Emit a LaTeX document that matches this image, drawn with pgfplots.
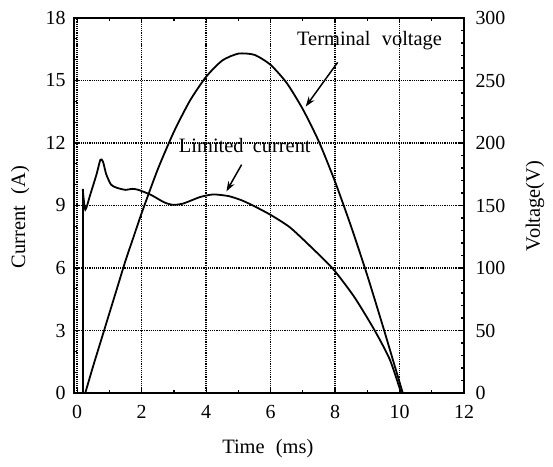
\documentclass[border=0pt]{standalone}
\usepackage{fontspec}
\setmainfont{Liberation Serif}
\usepackage{pgfplots}
\pgfplotsset{compat=1.18}
\usetikzlibrary{arrows.meta}

\pgfplotstableread{
t V
0.25 0
0.5 22
0.75 43
1.0 64
1.25 85
1.5 106
1.75 125
2.0 144
2.5 179
3.0 209
3.5 234
4.0 253
4.5 266
5.0 271.5
5.5 270.5
6.0 262.5
6.5 248
7.0 227
7.5 201
8.0 169
8.5 133
9.0 94
9.5 52
9.8 26
10.1 0
}\voltage

\pgfplotstableread{
t I
0.17 0
0.17 9.8
}\currentrise

\pgfplotstableread{
t I
0.17 9.8
0.25 8.8
0.4 9.5
0.6 10.5
0.72 11.2
0.8 11.1
0.9 10.5
1.05 10.0
1.23 9.85
1.5 9.75
1.7 9.8
1.9 9.75
2.3 9.5
2.7 9.15
2.98 9.03
3.3 9.1
3.8 9.4
4.22 9.53
4.7 9.45
5.1 9.25
5.45 9.0
6.0 8.55
6.6 7.95
7.26 7.0
7.94 5.95
8.6 4.6
9.23 3.0
9.7 1.6
10.05 0
}\current

\begin{document}
\begin{tikzpicture}
\path[use as bounding box] (-74bp,-74bp) rectangle (479bp,393bp);
\pgfplotsset{
  every axis/.append style={
    scale only axis, width=390bp, height=375bp,
    xmin=-0.1, xmax=12,
    font=\fontsize{20.5}{23}\selectfont,
    /pgf/number format/assume math mode=true,
    tick align=inside,
    major tick length=5bp, minor tick length=3.5bp,
    every tick/.style={black, line width=1.3pt},
    axis line style={line width=1.6pt},
    tick label style={font=\fontsize{20}{22}\selectfont},
  }
}
\begin{axis}[
  ymin=0, ymax=18,
  xtick={0,2,4,6,8,10,12},
  ytick={0,3,6,9,12,15,18},
  minor x tick num=1,
  minor y tick num=2,
  ytick pos=left,
  xtick pos=both,
  grid=major,
  major grid style={dash pattern=on 1.2pt off 1pt, line width=1.5pt, black},
  xlabel={Time\hspace{0.3em} (ms)},
  ylabel={Current\hspace{0.3em} (A)},
  xlabel style={at={(axis description cs:0.497,-0.147)}, anchor=center},
  ylabel style={at={(axis description cs:-0.138,0.469)}, anchor=center},
  xticklabel style={yshift=-9bp},
  yticklabel style={xshift=-5bp},
]
\addplot[black, line width=1.8pt] table[x=t, y=I] {\currentrise};
\addplot[black, line width=1.8pt, smooth, tension=0.4] table[x=t, y=I] {\current};
\node at (axis cs:9.07,16.9) {Terminal\hspace{0.3em} voltage};
\draw[-{Stealth[length=10bp,width=7bp]}, line width=1.5pt] (axis cs:8.08,15.87) -- (axis cs:7.09,13.75);
\node at (axis cs:5.2,11.9) {Limited\hspace{0.2em} current};
\draw[-{Stealth[length=10bp,width=7bp]}, line width=1.5pt] (axis cs:5.10,10.96) -- (axis cs:4.63,9.68);
\end{axis}
\begin{axis}[
  ymin=0, ymax=300,
  axis x line=none,
  axis y line*=right,
  ytick={0,50,100,150,200,250,300},
  minor y tick num=4,
  ylabel={Voltage(V)},
  ylabel style={at={(axis description cs:1.182,0.499)}, anchor=center},
  yticklabel style={xshift=8bp},
]
\addplot[black, line width=1.8pt, smooth, tension=0.4] table[x=t, y=V] {\voltage};
\end{axis}
\end{tikzpicture}
\end{document}
